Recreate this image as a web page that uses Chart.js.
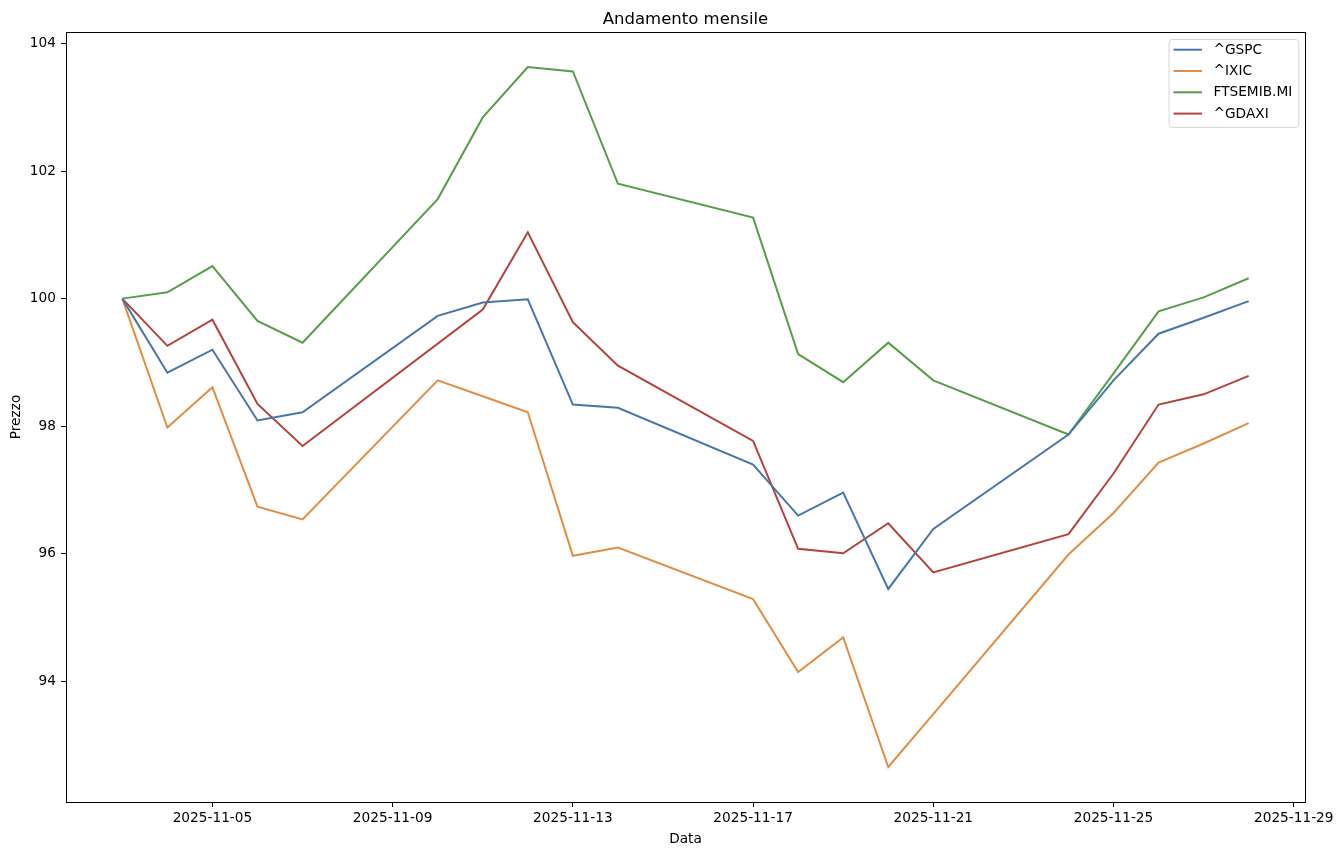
<!DOCTYPE html>
<html lang="it">
<head>
<meta charset="UTF-8">
<title>Andamento mensile</title>
<script src="https://cdn.jsdelivr.net/npm/chart.js"></script>
<style>
  html, body { margin: 0; padding: 0; background: #fff; }
</style>
</head>
<body>

<canvas id="grafico" width="1343" height="855"></canvas>

<script>
// dati (base 100 al 2025-11-03)
var date = ['2025-11-03', '2025-11-04', '2025-11-05', '2025-11-06', '2025-11-07',
            '2025-11-10', '2025-11-11', '2025-11-12', '2025-11-13', '2025-11-14',
            '2025-11-17', '2025-11-18', '2025-11-19', '2025-11-20', '2025-11-21',
            '2025-11-24', '2025-11-25', '2025-11-26', '2025-11-27', '2025-11-28'];

var gspc    = [100, 98.84, 99.20, 98.09, 98.22, 99.73, 99.94, 99.99, 98.34, 98.29,
               97.40, 96.60, 96.96, 95.45, 96.39, 97.87, 98.72, 99.45, 99.70, 99.96];
var ixic    = [100, 97.98, 98.61, 96.74, 96.54, 98.72, 98.47, 98.22, 95.97, 96.10,
               95.29, 94.15, 94.69, 92.66, 93.49, 95.99, 96.64, 97.43, 97.73, 98.05];
var ftsemib = [100, 100.10, 100.51, 99.65, 99.31, 101.56, 102.84, 103.63, 103.56, 101.80,
               101.27, 99.13, 98.69, 99.31, 98.72, 97.87, 98.83, 99.80, 100.02, 100.32];
var gdaxi   = [100, 99.26, 99.67, 98.35, 97.69, null, 99.83, 101.04, 99.63, 98.95,
               97.77, 96.08, 96.01, 96.48, 95.71, 96.31, 97.26, 98.34, 98.50, 98.79];

var nomi   = ['^GSPC', '^IXIC', 'FTSEMIB.MI', '^GDAXI'];
var colori = ['#4677a8', '#e08e45', '#569e47', '#b3423d'];

var tickDate   = ['2025-11-05', '2025-11-09', '2025-11-13', '2025-11-17',
                  '2025-11-21', '2025-11-25', '2025-11-29'];
var tickPrezzo = [94, 96, 98, 100, 102, 104];

var titolo = 'Andamento mensile';

function giorno(s) {
    var p = s.split('-');
    return Date.UTC(+p[0], +p[1] - 1, +p[2]) / 864e5;
}
function formatta(g) {
    return new Date(Math.round(g) * 864e5).toISOString().slice(0, 10);
}

var serie = [gspc, ixic, ftsemib, gdaxi];
var datasets = serie.map(function(valori, i) {
    return {
        label: nomi[i],
        data: date.map(function(d, j) { return { x: giorno(d), y: valori[j] }; }),
        borderColor: colori[i],
        backgroundColor: colori[i],
        borderWidth: 2,
        pointRadius: 0,
        tension: 0,
        spanGaps: true,
        fill: false
    };
});

// margini come matplotlib (5% dell'intervallo dei dati)
var tuttiY = [].concat(gspc, ixic, ftsemib, gdaxi).filter(function(v) { return v !== null; });
var yMin = Math.min.apply(null, tuttiY), yMax = Math.max.apply(null, tuttiY);
var xMin = giorno(date[0]), xMax = giorno(date[date.length - 1]);
var mx = (xMax - xMin) * 0.05, my = (yMax - yMin) * 0.05;

var FONT = 'DejaVu Sans';
Chart.defaults.font.family = FONT;
Chart.defaults.font.size = 13.7;
Chart.defaults.color = '#000';

var cornice = {
    id: 'cornice',
    afterDraw: function(chart) {
        var ctx = chart.ctx, a = chart.chartArea;
        ctx.save();
        ctx.strokeStyle = '#000';
        ctx.lineWidth = 1;
        ctx.strokeRect(Math.round(a.left) + 0.5, Math.round(a.top) + 0.5,
                       Math.round(a.right - a.left), Math.round(a.bottom - a.top));

        // titolo
        ctx.fillStyle = '#000';
        ctx.font = '16.5px "' + FONT + '"';
        ctx.textAlign = 'center';
        ctx.textBaseline = 'alphabetic';
        ctx.fillText(titolo, (a.left + a.right) / 2, 23.5);

        // legenda
        ctx.font = '13.7px "' + FONT + '"';
        var maxW = 0;
        chart.data.datasets.forEach(function(ds) {
            maxW = Math.max(maxW, ctx.measureText(ds.label).width);
        });
        var passo = 21.3;
        var w = 45 + maxW + 6, h = 10.7 + passo * 3 + 13.3;
        var x0 = a.right - 6.7 - w, y0 = a.top + 7;
        ctx.beginPath();
        ctx.roundRect(x0 + 0.5, y0 + 0.5, w, h, 3);
        ctx.fillStyle = 'rgba(255,255,255,0.8)';
        ctx.fill();
        ctx.strokeStyle = 'rgba(204,204,204,0.8)';
        ctx.stroke();
        ctx.textAlign = 'left';
        ctx.textBaseline = 'middle';
        chart.data.datasets.forEach(function(ds, i) {
            var yy = y0 + 10.7 + i * passo;
            ctx.strokeStyle = ds.borderColor;
            ctx.lineWidth = 2;
            ctx.beginPath();
            ctx.moveTo(x0 + 5, yy);
            ctx.lineTo(x0 + 33.5, yy);
            ctx.stroke();
            ctx.fillStyle = '#000';
            ctx.fillText(ds.label, x0 + 45, yy + 0.5);
        });
        ctx.restore();
    }
};

var ctx = document.getElementById('grafico').getContext('2d');
var chart = new Chart(ctx, {
    type: 'line',
    data: { datasets: datasets },
    plugins: [cornice],
    options: {
        responsive: false,
        animation: false,
        devicePixelRatio: 1,
        layout: { padding: { top: 32, right: 38, left: 0, bottom: 0 } },
        plugins: {
            legend: { display: false },
            title: { display: false },
            tooltip: { enabled: false }
        },
        scales: {
            x: {
                type: 'linear',
                min: xMin - mx,
                max: xMax + mx,
                afterFit: function(scale) { scale.height = 53; },
                afterBuildTicks: function(scale) {
                    scale.ticks = tickDate.map(function(d) { return { value: giorno(d) }; });
                },
                ticks: {
                    padding: 3,
                    maxRotation: 0,
                    autoSkip: false,
                    callback: function(v) { return formatta(v); }
                },
                grid: { drawOnChartArea: false, drawTicks: true, tickLength: 5, color: '#000' },
                border: { display: false },
                title: { display: true, text: 'Data', padding: { top: 0, bottom: 7 } }
            },
            y: {
                min: yMin - my,
                max: yMax + my,
                afterFit: function(scale) { scale.width = 66; },
                afterBuildTicks: function(scale) {
                    scale.ticks = tickPrezzo.map(function(v) { return { value: v }; });
                },
                ticks: {
                    padding: 5,
                    autoSkip: false,
                    callback: function(v) { return String(v); }
                },
                grid: { drawOnChartArea: false, drawTicks: true, tickLength: 5, color: '#000' },
                border: { display: false },
                title: { display: true, text: 'Prezzo', padding: { top: 8, bottom: 0 } }
            }
        }
    }
});
</script>

</body>
</html>
